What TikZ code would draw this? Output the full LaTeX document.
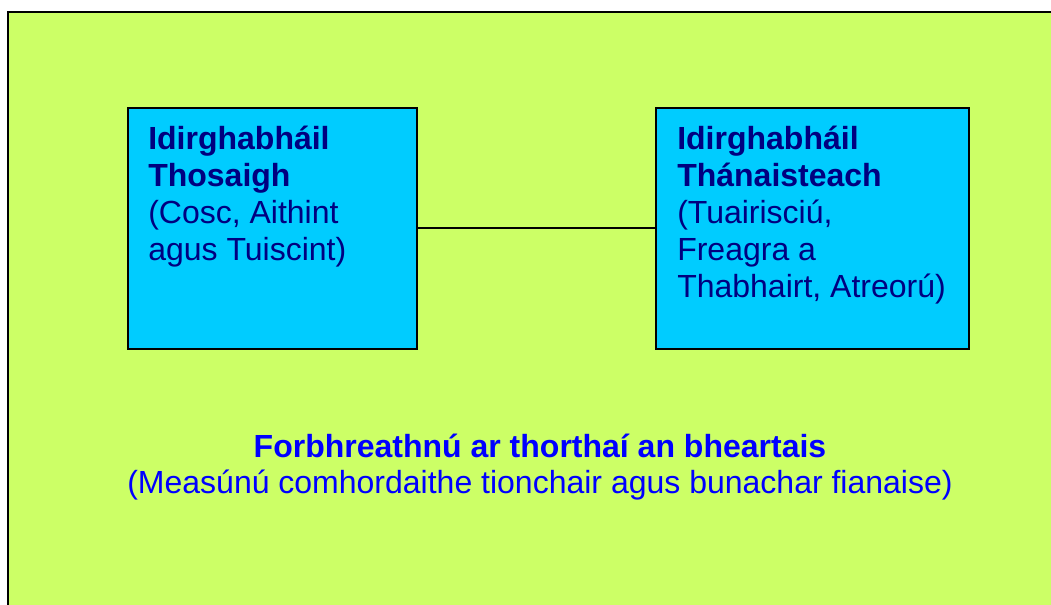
\documentclass[tikz,border=0pt]{standalone}
\usepackage{fontspec}
\setmainfont{Liberation Sans}
\usetikzlibrary{positioning}
\definecolor{limebg}{HTML}{CCFF66}
\definecolor{cyanbox}{HTML}{00CCFF}
\definecolor{navytext}{HTML}{000080}
\definecolor{bluetext}{HTML}{0000FF}
\tikzset{
  box/.style={draw=black,line width=1.5pt,fill=cyanbox,anchor=north west,minimum height=180.75pt},
  boxtext/.style={anchor=north west,inner sep=0pt,align=left,text=navytext,font=\fontsize{24}{27.75}\selectfont},
  bottomtext/.style={anchor=base,inner sep=0pt,text=bluetext,font=\fontsize{24}{27.75}\selectfont}
}

\begin{document}
\begin{tikzpicture}[x=0.75pt,y=-0.75pt]
  \useasboundingbox (0,0) rectangle (1051,605);
  \clip (0,0) rectangle (1051,605);
  \fill[white] (0,0) rectangle (1051,605);
  \draw[line width=1.5pt,fill=limebg] (8,12) rectangle (1070,630);
  % two boxes and the line between them
  \node[box,minimum width=216.75pt] (first) at (127,107) {};
  \node[box,minimum width=234.75pt] (second) at (655,107) {};
  \draw[line width=1.5pt] (first.east) -- (second.west);
  \node[boxtext] (firsttext) at (148,126) {\textbf{Idirghabháil}\\\textbf{Thosaigh}\\(Cosc, Aithint\\agus Tuiscint)};
  \node[boxtext] (secondtext) at (677,126) {\textbf{Idirghabháil}\\\textbf{Thánaisteach}\\(Tuairisciú,\\Freagra a\\Thabhairt, Atreorú)};
  % review text
  \node[bottomtext,font=\fontsize{24}{27.75}\selectfont\bfseries] (review) at (540,458) {Forbhreathnú ar thorthaí an bheartais};
  \node[bottomtext] (reviewnote) at (540,494) {(Measúnú comhordaithe tionchair agus bunachar fianaise)};
\end{tikzpicture}
\end{document}
